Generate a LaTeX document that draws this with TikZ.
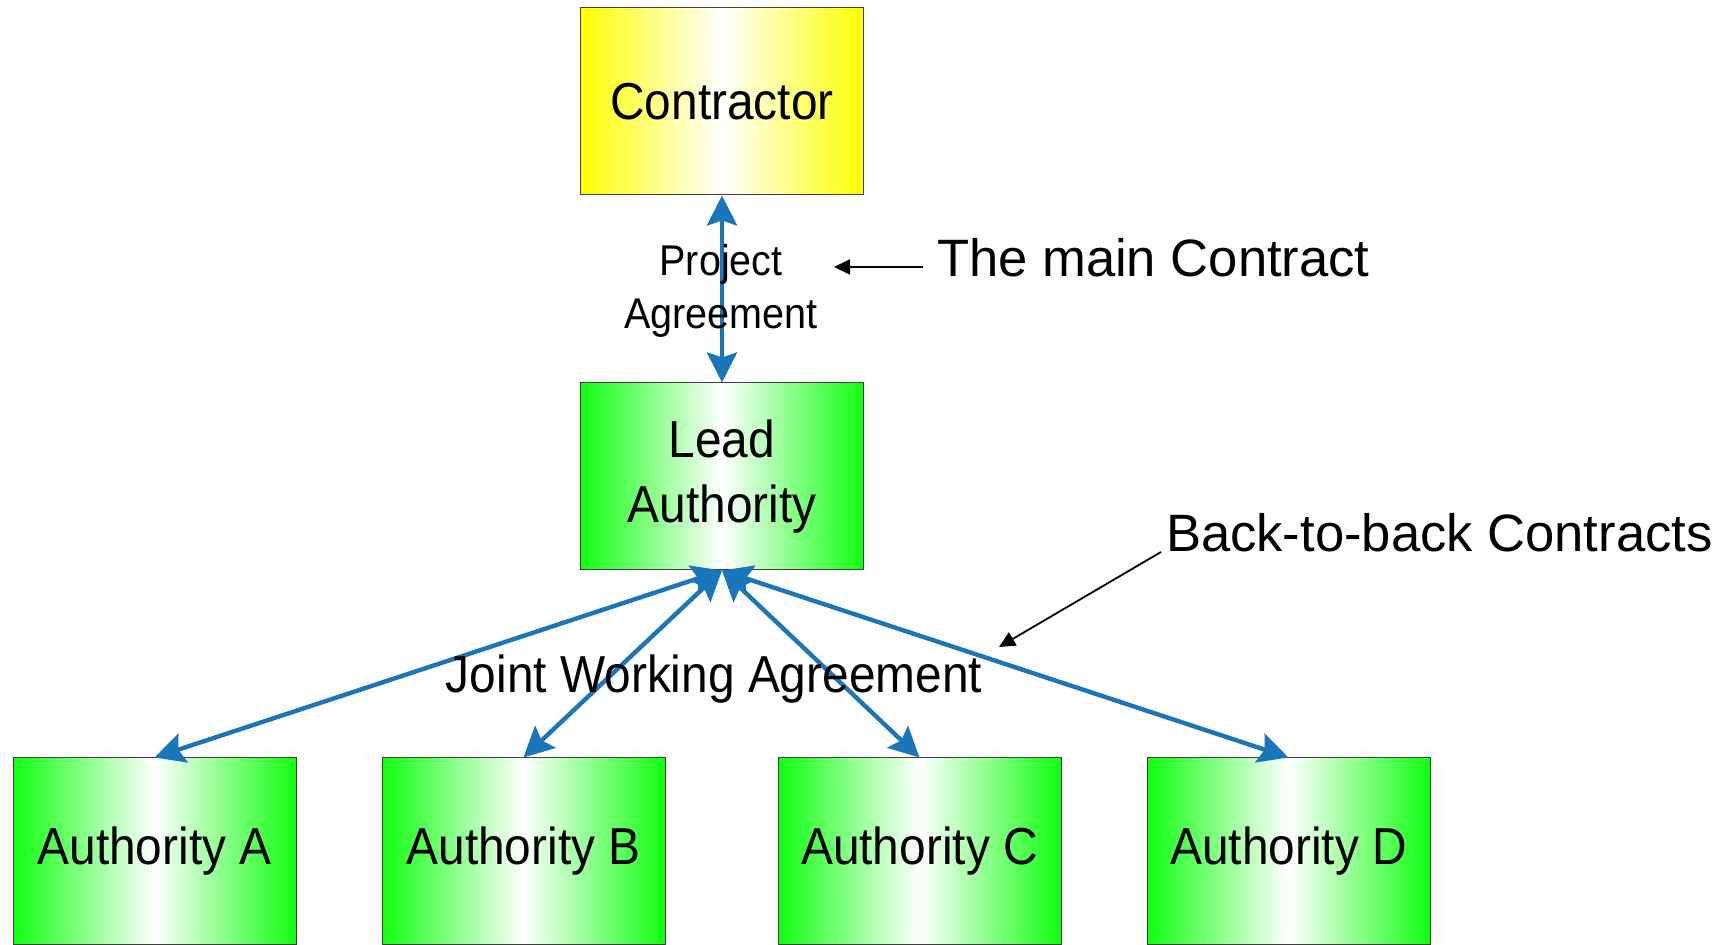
\documentclass[tikz,border=0pt]{standalone}
\usepackage{fontspec}
\setmainfont{Liberation Sans}
\newfontfamily\narrowfont{Liberation Sans}[FakeStretch=0.92]
\usetikzlibrary{arrows.meta}
\definecolor{linkblue}{RGB}{26,117,187}
\definecolor{boxgreen}{RGB}{16,255,16}
\definecolor{boxyellow}{RGB}{255,255,0}

\begin{document}
\begin{tikzpicture}[x=0.5pt,y=-0.5pt,
party/.style={draw=black!75,line width=0.5pt,minimum width=141.5pt,minimum height=93.5pt,
  inner sep=0pt,align=center,font={\narrowfont\fontsize{26}{32.5}\selectfont}},
green party/.style={party,left color=boxgreen,right color=boxgreen,middle color=white},
link/.style={linkblue,line width=2.2pt,
  {Stealth[length=15pt,width=15pt,inset=2.5pt]}-{Stealth[length=15pt,width=15pt,inset=2.5pt]}},
pointer/.style={black,line width=0.9pt,-{Stealth[length=8pt,width=7.5pt,inset=0pt]}}
]
\useasboundingbox (0,0) rectangle (1731,945);

\node[party,left color=boxyellow,right color=boxyellow,middle color=white] (contractor) at (722,101.5) {Contractor};
\node[green party] (lead) at (722,476.5) {Lead\\Authority};
\foreach \name/\x/\lbl in {authA/154.5/A,authB/523.5/B,authC/919.5/C,authD/1288.5/D} {
\node[green party] (\name) at (\x,851.5) {Authority \lbl};
};

\draw[link] (contractor.south) -- (lead.north);
\foreach \name in {authA,authB,authC,authD} {
\draw[link] (lead.south) -- (\name.north);
};

\node[font={\narrowfont\fontsize{21.5}{26.5}\selectfont},align=center] (agree) at (721,291) {Project\\Agreement};
\node[font={\narrowfont\fontsize{26}{30}\selectfont}] (joint) at (714,679) {Joint Working Agreement};

\node[font={\fontsize{26.3}{32}\selectfont},anchor=base west,inner sep=0pt,outer xsep=7pt] (mainc) at (923,277) {The main Contract};
\coordinate (maintip) at (834,267);
\draw[pointer] (mainc.west |- maintip) -- (maintip);

\node[font={\fontsize{26.3}{32}\selectfont},anchor=base west,inner sep=0pt,outer xsep=2.5pt] (b2b) at (1161,552) {Back-to-back Contracts};
\coordinate (b2btip) at (999,647);
\draw[pointer] (b2b.base west) -- (b2btip);
\end{tikzpicture}
\end{document}
